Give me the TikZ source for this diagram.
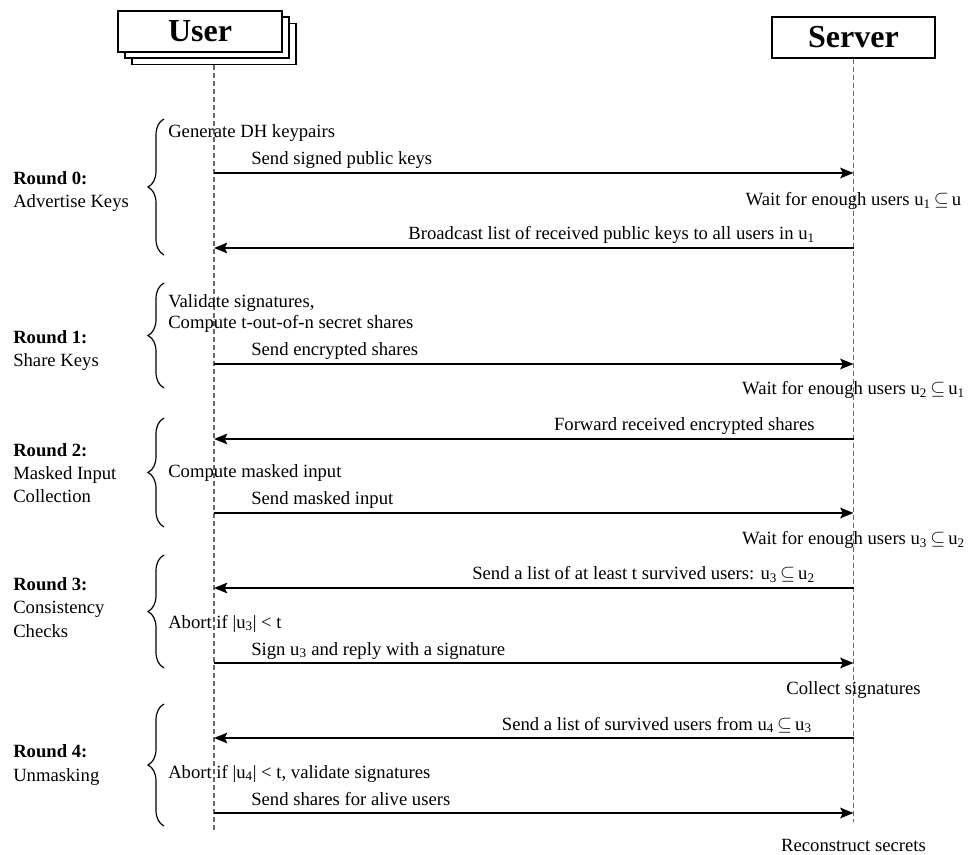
\documentclass[tikz,border=0pt]{standalone}
\usepackage{fontspec}
\setmainfont{Liberation Serif}
\usetikzlibrary{arrows.meta,decorations.pathreplacing}

\newcommand{\sub}[1]{u\textsubscript{#1}}
\newcommand{\sseq}{\,$\subseteq$\,}

\begin{document}
\begin{tikzpicture}[x=0.75pt,y=-0.75pt,
  party/.style={draw=black, line width=1.2pt, fill=white, minimum width=123pt,
    minimum height=31pt, inner sep=0pt, font=\fontsize{24}{28}\selectfont\bfseries},
  lifeline/.style={draw=black!60, line width=1.2pt, dash pattern=on 3.5pt off 2.5pt},
  msg/.style={draw=black, line width=1.2pt, -{Stealth[length=10pt,width=8pt,inset=2pt]}},
  msglbl/.style={inner sep=0pt, font=\fontsize{14}{16}\selectfont},
  note/.style={msglbl, align=left, anchor=base west},
  srvnote/.style={msglbl, anchor=base},
  roundlbl/.style={inner sep=0pt, font=\fontsize{14}{17.3}\selectfont, align=left, anchor=base west},
  curly/.style={draw=black, decorate, decoration={brace, amplitude=12pt}, line width=0.9pt}
]
\useasboundingbox (0,0) rectangle (968,855);

% participants: a stack of user boxes and a single server box
\node[party] (user3) at (214,44) {};
\node[party] (user2) at (207,37.5) {};
\node[party] (user1) at (200,31.5) {User};
\node[party, minimum width=122pt] (server) at (853.5,37.5) {Server};

% lifelines
\coordinate (uend) at (214,830);
\coordinate (send) at (853.5,822);
\draw[lifeline] (user3.south) -- (uend);
\draw[lifeline] (server.south) -- (send);

% message end points on the two lifelines
\foreach \n/\y in {1/173,2/248,3/364,4/439,5/513,6/588,7/663,8/738,9/813}{
  \coordinate (u\n) at (214,\y);
  \coordinate (s\n) at (853.5,\y);
}

% messages
\draw[msg] (u1) -- (s1);
\draw[msg] (s2) -- (u2);
\draw[msg] (u3) -- (s3);
\draw[msg] (s4) -- (u4);
\draw[msg] (u5) -- (s5);
\draw[msg] (s6) -- (u6);
\draw[msg] (u7) -- (s7);
\draw[msg] (s8) -- (u8);
\draw[msg] (u9) -- (s9);

% message labels
\node[msglbl, anchor=base west] (l1) at (251,165) {Send signed public keys};
\node[msglbl, anchor=base east] (l2) at (815,240) {Broadcast list of received public keys to all users in \sub{1}};
\node[msglbl, anchor=base west] (l3) at (251,356) {Send encrypted shares};
\node[msglbl, anchor=base east] (l4) at (815,431) {Forward received encrypted shares};
\node[msglbl, anchor=base west] (l5) at (251,505) {Send masked input};
\node[msglbl, anchor=base east] (l6) at (815,580) {Send a list of at least t survived users: \sub{3}\sseq\sub{2}};
\node[msglbl, anchor=base west] (l7) at (251,655) {Sign \sub{3} and reply with a signature};
\node[msglbl, anchor=base east] (l8) at (812,730) {Send a list of survived users from \sub{4}\sseq\sub{3}};
\node[msglbl, anchor=base west] (l9) at (251,805) {Send shares for alive users};

% local steps on the user side (base anchor = baseline of the last line)
\node[note] (n0) at (168,138) {Generate DH keypairs};
\node[note, font=\fontsize{14}{15.8}\selectfont] (n1) at (168,329) {Validate signatures,\\Compute t-out-of-n secret shares};
\node[note] (n2) at (168,478) {Compute masked input};
\node[note] (n3) at (168,628) {Abort if |\sub{3}| < t};
\node[note] (n4) at (168,778) {Abort if |\sub{4}| < t, validate signatures};

% steps on the server side
\node[srvnote] (w1) at (853.5,206) {Wait for enough users \sub{1}\sseq u};
\node[srvnote] (w2) at (853.5,395) {Wait for enough users \sub{2}\sseq\sub{1}};
\node[srvnote] (w3) at (853.5,545) {Wait for enough users \sub{3}\sseq\sub{2}};
\node[srvnote] (w4) at (853.5,694) {Collect signatures};
\node[srvnote] (w5) at (853.5,851) {Reconstruct secrets};

% rounds
\draw[curly] (164,255) -- (164,119);
\draw[curly] (164,388) -- (164,283);
\draw[curly] (164,527) -- (164,418);
\draw[curly] (164,668) -- (164,555);
\draw[curly] (164,826) -- (164,704);

\node[roundlbl] (r0) at (13,208) {\textbf{Round 0:}\\Advertise Keys};
\node[roundlbl] (r1) at (13,367) {\textbf{Round 1:}\\Share Keys};
\node[roundlbl] (r2) at (13,503) {\textbf{Round 2:}\\Masked Input\\Collection};
\node[roundlbl] (r3) at (13,637) {\textbf{Round 3:}\\Consistency\\Checks};
\node[roundlbl] (r4) at (13,781) {\textbf{Round 4:}\\Unmasking};
\end{tikzpicture}
\end{document}
